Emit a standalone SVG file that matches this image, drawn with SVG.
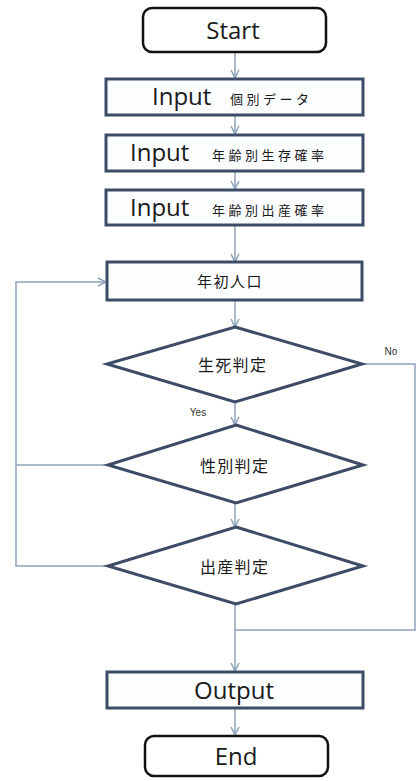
<svg xmlns="http://www.w3.org/2000/svg" width="417" height="781" viewBox="0 0 417 781">
<defs>
<style>
.term{fill:#fff;stroke:#111;stroke-width:2.5}
.box{fill:#fbfdff;stroke:#3d4c66;stroke-width:3}
.dia{fill:#fff;stroke:#3d4c66;stroke-width:3;stroke-linejoin:miter}
.con{fill:none;stroke:#8fa2bb;stroke-width:1.5}
.t{font-family:"Open Sans","Liberation Sans","Noto Sans CJK JP",sans-serif;fill:#1a1a1a;text-anchor:middle}
.ts{font-family:"Open Sans","Liberation Sans","Noto Sans CJK JP",sans-serif;fill:#1a1a1a;font-size:24px}
.cjk{font-family:"Noto Sans CJK JP","Noto Sans CJK SC",sans-serif;fill:#1a1a1a}
.sm{font-size:13px;letter-spacing:3.5px}
.lbl{font-family:"Liberation Sans","Noto Sans",sans-serif;fill:#333;font-size:10px}
</style>
<marker id="ar" viewBox="0 0 10 10" refX="9" refY="5" markerWidth="10" markerHeight="10" markerUnits="userSpaceOnUse" orient="auto">
<path d="M1,1 L9,5 L1,9" fill="none" stroke="#8fa2bb" stroke-width="1.5"/>
</marker>
</defs>
<rect width="417" height="781" fill="#fff"/>
<g id="connectors">
<line class="con" x1="235" y1="53" x2="235" y2="78" marker-end="url(#ar)"/>
<line class="con" x1="235" y1="116" x2="235" y2="134" marker-end="url(#ar)"/>
<line class="con" x1="235" y1="172" x2="235" y2="189" marker-end="url(#ar)"/>
<line class="con" x1="235" y1="226" x2="235" y2="262" marker-end="url(#ar)"/>
<line class="con" x1="235" y1="301" x2="235" y2="327" marker-end="url(#ar)"/>
<line class="con" x1="235" y1="403" x2="235" y2="425" marker-end="url(#ar)"/>
<line class="con" x1="235" y1="503" x2="235" y2="527" marker-end="url(#ar)"/>
<line class="con" x1="235" y1="604" x2="235" y2="671" marker-end="url(#ar)"/>
<line class="con" x1="235" y1="709" x2="235" y2="735" marker-end="url(#ar)"/>
<polyline class="con" points="108,566 16,566 16,282 106,282" marker-end="url(#ar)"/>
<line class="con" x1="108" y1="465" x2="16" y2="465"/>
<polyline class="con" points="362,364 415,364 415,630 235,630"/>
<text class="lbl" x="391" y="355" text-anchor="middle">No</text>
<text class="lbl" x="198" y="416" text-anchor="middle">Yes</text>
</g>
<g id="start">
<rect class="term" x="143" y="8" width="183" height="44" rx="9"/>
<text class="t" x="233" y="39" font-size="24">Start</text>
</g>
<g id="input1">
<rect class="box" x="106" y="79" width="257" height="36"/>
<text class="ts" x="152" y="105">Input</text>
<text class="cjk sm" x="230" y="104">個別データ</text>
</g>
<g id="input2">
<rect class="box" x="106" y="135" width="257" height="36"/>
<text class="ts" x="130" y="161">Input</text>
<text class="cjk sm" x="212" y="160">年齢別生存確率</text>
</g>
<g id="input3">
<rect class="box" x="106" y="190" width="257" height="35"/>
<text class="ts" x="130" y="216">Input</text>
<text class="cjk sm" x="212" y="215">年齢別出産確率</text>
</g>
<g id="population">
<rect class="box" x="107" y="262" width="255" height="38"/>
<text class="cjk" x="197" y="287" font-size="15" letter-spacing="1.5">年初人口</text>
</g>
<g id="death">
<polygon class="dia" points="235,327 362,364 235,402 107,364"/>
<text class="cjk" x="198" y="371" font-size="16" letter-spacing="1.3">生死判定</text>
</g>
<g id="sex">
<polygon class="dia" points="236,425 363,465 236,503 108,465"/>
<text class="cjk" x="200" y="472" font-size="16" letter-spacing="1.3">性別判定</text>
</g>
<g id="birth">
<polygon class="dia" points="236,527 363,566 236,604 108,566"/>
<text class="cjk" x="200" y="573" font-size="16" letter-spacing="1.3">出産判定</text>
</g>
<g id="output">
<rect class="box" x="107" y="672" width="256" height="36"/>
<text class="t" x="234" y="699" font-size="24">Output</text>
</g>
<g id="end">
<rect class="term" x="145" y="736" width="183" height="40" rx="9"/>
<text class="t" x="236" y="765" font-size="24">End</text>
</g>
</svg>
